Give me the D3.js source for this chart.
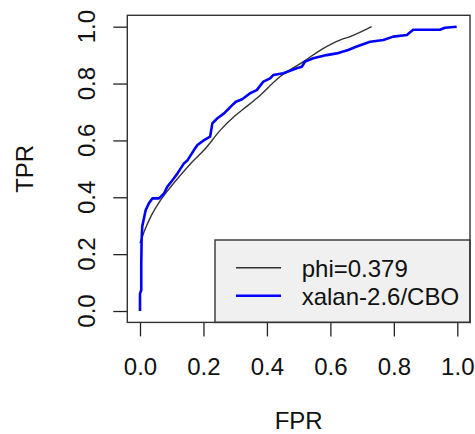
<!DOCTYPE html>
<html>
<head>
<meta charset="utf-8">
<script src="https://cdn.jsdelivr.net/npm/d3@7"></script>
<style>
  body { margin: 0; background: #fff; }
  svg { display: block; font-family: "Liberation Sans", Arial, sans-serif; }
</style>
</head>
<body>
<div id="chart"></div>
<script>
// ROC curve (FPR, TPR)
const fprBlue = [0.0, 0.0, 0.004, 0.004, 0.005, 0.007, 0.018, 0.028, 0.039, 0.060, 0.076, 0.086,
  0.107, 0.118, 0.139, 0.149, 0.170, 0.181, 0.202, 0.221, 0.228, 0.244, 0.265, 0.286, 0.302,
  0.322, 0.347, 0.368, 0.389, 0.410, 0.420, 0.452, 0.473, 0.494, 0.510, 0.520, 0.546, 0.588,
  0.620, 0.656, 0.683, 0.725, 0.767, 0.798, 0.841, 0.861, 0.945, 0.961, 0.998];
const tprBlue = [0.0, 0.06, 0.074, 0.156, 0.244, 0.297, 0.355, 0.379, 0.396, 0.396, 0.414, 0.437,
  0.467, 0.484, 0.520, 0.529, 0.566, 0.584, 0.601, 0.613, 0.660, 0.678, 0.695, 0.719, 0.736,
  0.745, 0.766, 0.777, 0.807, 0.818, 0.830, 0.836, 0.845, 0.854, 0.859, 0.877, 0.889, 0.900,
  0.906, 0.918, 0.930, 0.947, 0.953, 0.965, 0.971, 0.989, 0.989, 0.996, 1.0];

// fitted curve (phi=0.379)
const fprPhi = [0.0, 0.013, 0.034, 0.065, 0.097, 0.128, 0.165, 0.202, 0.254, 0.296, 0.322,
  0.368, 0.441, 0.515, 0.578, 0.630, 0.662, 0.730];
const tprPhi = [0.238, 0.279, 0.332, 0.390, 0.437, 0.478, 0.525, 0.566, 0.637, 0.683, 0.707,
  0.748, 0.824, 0.877, 0.924, 0.953, 0.965, 1.0];

const xTicks = [0, 0.2, 0.4, 0.6, 0.8, 1.0];
const yTicks = [0, 0.2, 0.4, 0.6, 0.8, 1.0];
const legendLabels = ["phi=0.379", "xalan-2.6/CBO"];
const legendColors = ["#333333", "#0000ff"];

const W = 475, H = 434;
const svg = d3.select("#chart").append("svg").attr("width", W).attr("height", H);

const x = d3.scaleLinear().domain([-0.04, 1.04]).range([127.3, 470]);
const y = d3.scaleLinear().domain([-0.04, 1.04]).range([322.4, 15.3]);
const fmt = d3.format(".1f");

// x axis
const xa = svg.append("g").attr("transform", "translate(0,322.4)")
  .call(d3.axisBottom(x).tickValues(xTicks).tickSize(14).tickFormat(fmt));
xa.select(".domain").remove();
xa.selectAll("line").attr("stroke", "#222").attr("stroke-width", 1.3);
xa.selectAll("text").attr("y", 52.6).attr("dy", null)
  .attr("font-size", 24).attr("fill", "#111").attr("font-family", "Liberation Sans, Arial, sans-serif");

// y axis (labels rotated like R default)
const ya = svg.append("g").attr("transform", "translate(127.3,0)")
  .call(d3.axisLeft(y).tickValues(yTicks).tickSize(14).tickFormat(""));
ya.select(".domain").remove();
ya.selectAll("line").attr("stroke", "#222").attr("stroke-width", 1.3);
svg.append("g").selectAll("text").data(yTicks).join("text")
  .attr("transform", d => `translate(95,${y(d)}) rotate(-90)`)
  .attr("text-anchor", "middle").attr("font-size", 24).attr("fill", "#111")
  .text(fmt);

// axis titles
svg.append("text").attr("x", (x.range()[0] + x.range()[1]) / 2).attr("y", 429)
  .attr("text-anchor", "middle").attr("font-size", 24).attr("fill", "#111").text("FPR");
svg.append("text").attr("transform", `translate(33.3,${(y.range()[0] + y.range()[1]) / 2}) rotate(-90)`)
  .attr("text-anchor", "middle").attr("font-size", 24).attr("fill", "#111").text("TPR");

// curves
const line = d3.line().x(d => x(d[0])).y(d => y(d[1]));
svg.append("path").datum(d3.zip(fprPhi, tprPhi))
  .attr("d", line.curve(d3.curveMonotoneX)).attr("fill", "none").attr("stroke", "#333").attr("stroke-width", 1.4);
svg.append("path").datum(d3.zip(fprBlue, tprBlue))
  .attr("d", line.curve(d3.curveLinear)).attr("fill", "none").attr("stroke", "#0000ff").attr("stroke-width", 2.6)
  .attr("stroke-linejoin", "round");

// legend in the bottom-right corner
const lg = svg.append("g");
lg.append("rect").attr("x", 215).attr("y", 240).attr("width", x.range()[1] - 215).attr("height", y.range()[0] - 240)
  .attr("fill", "#f0f0f0").attr("stroke", "#333").attr("stroke-width", 1.4);
legendLabels.forEach((lab, i) => {
  const ly = 267.7 + i * 28;
  lg.append("line").attr("x1", 236).attr("x2", 281).attr("y1", ly).attr("y2", ly)
    .attr("stroke", legendColors[i]).attr("stroke-width", i == 0 ? 1.4 : 2.6);
  lg.append("text").attr("x", 301.7).attr("y", ly + 9).attr("font-size", 24).attr("fill", "#111").text(lab);
});

// plot frame
svg.append("rect").attr("x", x.range()[0]).attr("y", y.range()[1])
  .attr("width", x.range()[1] - x.range()[0]).attr("height", y.range()[0] - y.range()[1])
  .attr("fill", "none").attr("stroke", "#333").attr("stroke-width", 1.4);
</script>
</body>
</html>
